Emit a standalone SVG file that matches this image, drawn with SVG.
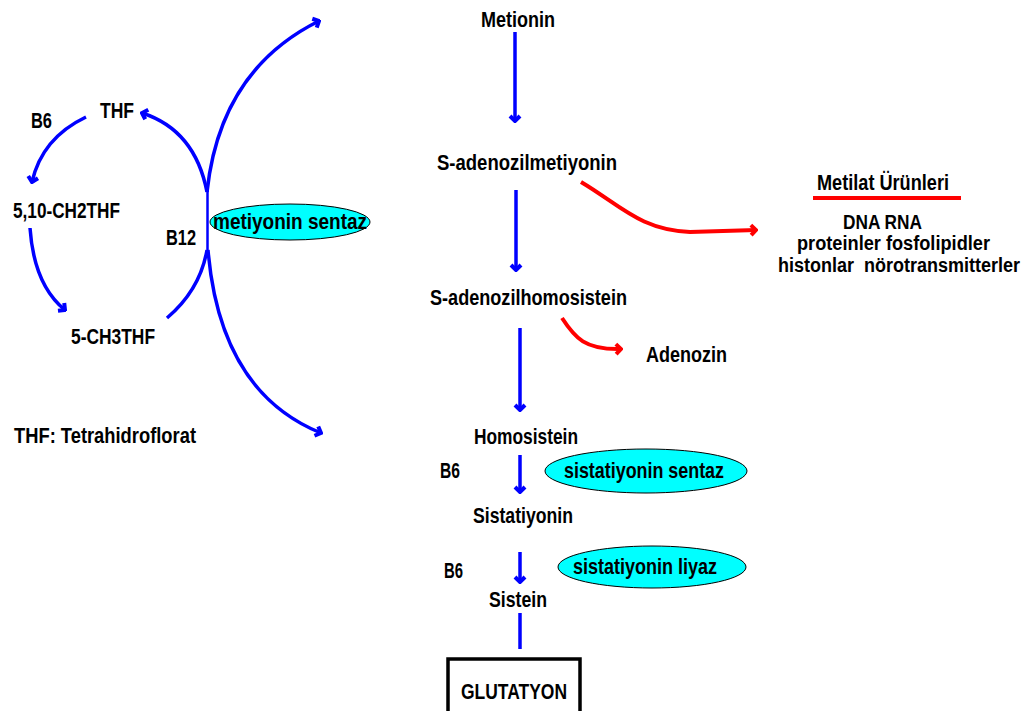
<svg xmlns="http://www.w3.org/2000/svg" width="1027" height="711" viewBox="0 0 1027 711">
  <style>
    text { font-family: "Liberation Sans", Arial, sans-serif; font-weight: bold; font-size: 22px; fill: #000; }
    .list { font-size: 20px; }
    .blue { fill: none; stroke: #0000ff; stroke-width: 3.5; stroke-linecap: butt; }
    .red { fill: none; stroke: #ff0000; stroke-width: 4; }
    .enz { fill: #00ffff; stroke: #000; stroke-width: 1; }
  </style>
  <defs>
    <marker id="ab" viewBox="-8 -8 10 16" markerWidth="10" markerHeight="16" markerUnits="userSpaceOnUse" orient="auto" refX="0" refY="0">
      <path d="M-5,-5 L0,0 L-5,5" fill="none" stroke="#0000ff" stroke-width="4"/>
    </marker>
    <marker id="ar" viewBox="-8 -8 10 16" markerWidth="10" markerHeight="16" markerUnits="userSpaceOnUse" orient="auto" refX="0" refY="0">
      <path d="M-5,-5 L0,0 L-5,5" fill="none" stroke="#ff0000" stroke-width="4"/>
    </marker>
  </defs>
  <rect width="1027" height="711" fill="#ffffff"/>

  <g id="connectors">
    <!-- main pathway -->
    <line class="blue" x1="515" y1="32" x2="515" y2="121" marker-end="url(#ab)"/>
    <line class="blue" x1="516" y1="190" x2="516" y2="270" marker-end="url(#ab)"/>
    <line class="blue" x1="520" y1="328" x2="520" y2="410" marker-end="url(#ab)"/>
    <line class="blue" x1="520" y1="455" x2="520" y2="492" marker-end="url(#ab)"/>
    <line class="blue" x1="520" y1="552" x2="520" y2="582" marker-end="url(#ab)"/>
    <line class="blue" x1="520" y1="613" x2="520" y2="649"/>
    <!-- methyl transfer branches -->
    <path class="red" d="M581,182 C620,205 640,230 690,232 L756,230" marker-end="url(#ar)"/>
    <path class="red" d="M562,318 C575,338 585,350 621,349" marker-end="url(#ar)"/>
    <line class="red" x1="813" y1="198" x2="961" y2="198"/>
    <!-- folate cycle -->
    <path class="blue" d="M86,117 Q42,138 32,182" marker-end="url(#ab)"/>
    <path class="blue" d="M30,228 Q34,285 65,310" marker-end="url(#ab)"/>
    <path class="blue" d="M167,318 Q200,290 207,250"/>
    <line x1="207.5" y1="188" x2="207.5" y2="252" stroke="#0000ff" stroke-width="2.5"/>
    <path class="blue" d="M207,192 Q195,130 142,113" marker-end="url(#ab)"/>
    <path class="blue" d="M207,192 Q220,70 319,21" marker-end="url(#ab)"/>
    <path class="blue" d="M208,250 Q220,392 321,433" marker-end="url(#ab)"/>
  </g>

  <g id="n-metionin"><text x="481" y="27" textLength="74" lengthAdjust="spacingAndGlyphs">Metionin</text></g>
  <g id="n-sam"><text x="437" y="170" textLength="180" lengthAdjust="spacingAndGlyphs">S-adenozilmetiyonin</text></g>
  <g id="n-sah"><text x="430" y="305" textLength="197" lengthAdjust="spacingAndGlyphs">S-adenozilhomosistein</text></g>
  <g id="n-metilat">
    <text x="817" y="190" textLength="132" lengthAdjust="spacingAndGlyphs">Metilat Ürünleri</text>
    <text class="list" x="843" y="229" textLength="79" lengthAdjust="spacingAndGlyphs">DNA RNA</text>
    <text class="list" x="797" y="250" textLength="193" lengthAdjust="spacingAndGlyphs">proteinler fosfolipidler</text>
    <text class="list" x="778" y="272" textLength="242" lengthAdjust="spacingAndGlyphs" xml:space="preserve">histonlar  nörotransmitterler</text>
  </g>
  <g id="n-adenozin"><text x="646" y="362" textLength="81" lengthAdjust="spacingAndGlyphs">Adenozin</text></g>
  <g id="n-homosistein"><text x="474" y="444" textLength="104" lengthAdjust="spacingAndGlyphs">Homosistein</text></g>
  <g id="n-b6a"><text x="440" y="478" textLength="20" lengthAdjust="spacingAndGlyphs">B6</text></g>
  <g id="n-sentaz">
    <ellipse class="enz" cx="646" cy="471" rx="101" ry="22"/>
    <text x="564" y="478" textLength="160" lengthAdjust="spacingAndGlyphs">sistatiyonin sentaz</text>
  </g>
  <g id="n-sistatiyonin"><text x="473" y="523" textLength="100" lengthAdjust="spacingAndGlyphs">Sistatiyonin</text></g>
  <g id="n-b6b"><text x="444" y="578" textLength="19" lengthAdjust="spacingAndGlyphs">B6</text></g>
  <g id="n-liyaz">
    <ellipse class="enz" cx="652" cy="567" rx="94" ry="21"/>
    <text x="573" y="574" textLength="144" lengthAdjust="spacingAndGlyphs">sistatiyonin liyaz</text>
  </g>
  <g id="n-sistein"><text x="489" y="607" textLength="58" lengthAdjust="spacingAndGlyphs">Sistein</text></g>
  <g id="n-glutatyon">
    <rect x="448" y="659" width="132" height="60" fill="#fff" stroke="#000" stroke-width="3.5"/>
    <text x="461" y="699" textLength="106" lengthAdjust="spacingAndGlyphs">GLUTATYON</text>
  </g>

  <g id="n-thf"><text x="100" y="118" textLength="34" lengthAdjust="spacingAndGlyphs">THF</text></g>
  <g id="n-b6c"><text x="31" y="128" textLength="21" lengthAdjust="spacingAndGlyphs">B6</text></g>
  <g id="n-ch2thf"><text x="13" y="218" textLength="107" lengthAdjust="spacingAndGlyphs">5,10-CH2THF</text></g>
  <g id="n-b12"><text x="166" y="245" textLength="30" lengthAdjust="spacingAndGlyphs">B12</text></g>
  <g id="n-ch3thf"><text x="71" y="344" textLength="84" lengthAdjust="spacingAndGlyphs">5-CH3THF</text></g>
  <g id="n-metsentaz">
    <ellipse class="enz" cx="290" cy="222" rx="80" ry="18"/>
    <text x="213" y="229" textLength="154" lengthAdjust="spacingAndGlyphs">metiyonin sentaz</text>
  </g>
  <g id="n-legend"><text x="14" y="443" textLength="182" lengthAdjust="spacingAndGlyphs">THF: Tetrahidroflorat</text></g>
</svg>
